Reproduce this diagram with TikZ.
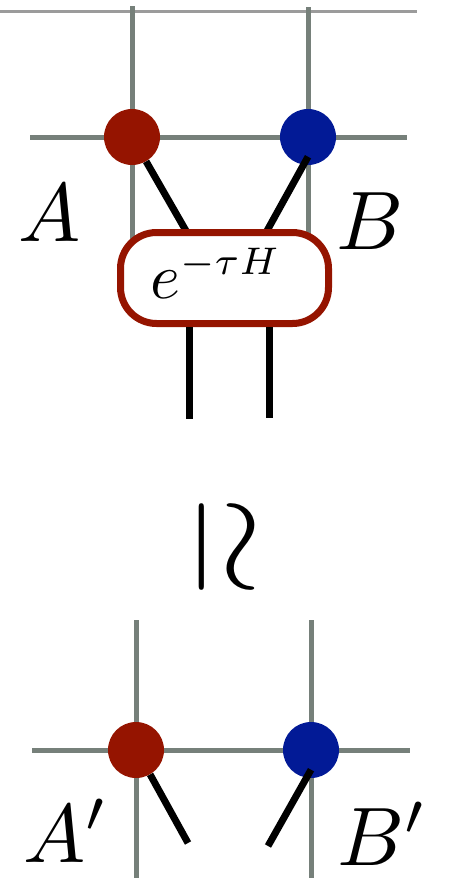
\documentclass[tikz,border=0pt]{standalone}
\usepackage{amsmath,amssymb}
\usetikzlibrary{calc,backgrounds,positioning}
\definecolor{siteA}{HTML}{951400}
\definecolor{siteB}{HTML}{021A96}
\definecolor{bond}{HTML}{76807A}
\definecolor{farbond}{HTML}{9B9B9B}

\begin{document}
\begin{tikzpicture}[x=1pt,y=-1pt,
    bondline/.style={draw=bond,line width=5pt},
    farline/.style={draw=farbond,line width=3pt},
    tensA/.style={circle,fill=siteA,minimum size=56pt,inner sep=0pt},
    tensB/.style={circle,fill=siteB,minimum size=56pt,inner sep=0pt},
    leg/.style={draw=black,line width=7pt},
    gate/.style={draw=siteA,line width=7pt,rounded corners=36pt,fill=white,minimum width=208pt,minimum height=91pt,inner sep=0pt},
    lbl/.style={anchor=base,inner sep=0pt,scale=8.3}
]
\useasboundingbox (0,0) rectangle (449,878);

% before the update
\node[tensA] (A) at (132,137) {};
\node[tensB] (B) at (308,137) {};
\coordinate (topA) at (132,6);
\coordinate (topB) at (308,7);
\coordinate (downA) at (132,250);
\coordinate (downB) at (308,250);
\coordinate (westAB) at (30,137);
\coordinate (eastAB) at (407,137);
\coordinate (farW) at (0,11.5);
\coordinate (farE) at (417,11.5);
\begin{scope}[on background layer]
  \draw[farline] (farW) -- (farE);
  \draw[bondline] (westAB) -- (A) -- (B) -- (eastAB);
  \draw[bondline] (topA) -- (A) -- (downA);
  \draw[bondline] (topB) -- (B) -- (downB);
\end{scope}

\coordinate (inA) at (189,236);
\coordinate (inB) at (263,238);
\draw[leg] (A.300) -- (inA);
\draw[leg] ($(B)!0.7!(B.south)$) -- (inB);

\node[gate] (gate) at (224.5,278) {};
\node[anchor=base,inner sep=0pt] (gatetxt) at (216,298)
  {\scalebox{6.4}{$e^{\scalebox{0.86}{$\scriptstyle -\tau H$}}$}};
\coordinate (outA) at (189,419);
\coordinate (outB) at (269,418);
\draw[leg] (gate.south -| outA) -- (outA);
\draw[leg] (gate.south -| outB) -- (outB);

\node[lbl] (labA) at (50,241) {$A$};
\node[lbl] (labB) at (370,249) {$B$};

\node[rotate=-90,inner sep=0pt,scale=13] (approx) at (225,547) {$\simeq$};

% after the update
\node[tensA] (Ap) at (136,750) {};
\node[tensB] (Bp) at (311,750) {};
\coordinate (topAp) at (136,620);
\coordinate (topBp) at (311,620);
\coordinate (downAp) at (136,878);
\coordinate (downBp) at (311,878);
\coordinate (westApBp) at (32,750);
\coordinate (eastApBp) at (410,750);
\begin{scope}[on background layer]
  \draw[bondline] (westApBp) -- (Ap) -- (Bp) -- (eastApBp);
  \draw[bondline] (topAp) -- (Ap) -- (downAp);
  \draw[bondline] (topBp) -- (Bp) -- (downBp);
\end{scope}

\coordinate (endA) at (188,843);
\coordinate (endB) at (268,846);
\draw[leg] (Ap.300) -- (endA);
\draw[leg] ($(Bp)!0.7!(Bp.south)$) -- (endB);

\node[lbl] (labAp) at (66,862) {$A'$};
\node[lbl] (labBp) at (383,865) {$B'$};
\end{tikzpicture}
\end{document}
